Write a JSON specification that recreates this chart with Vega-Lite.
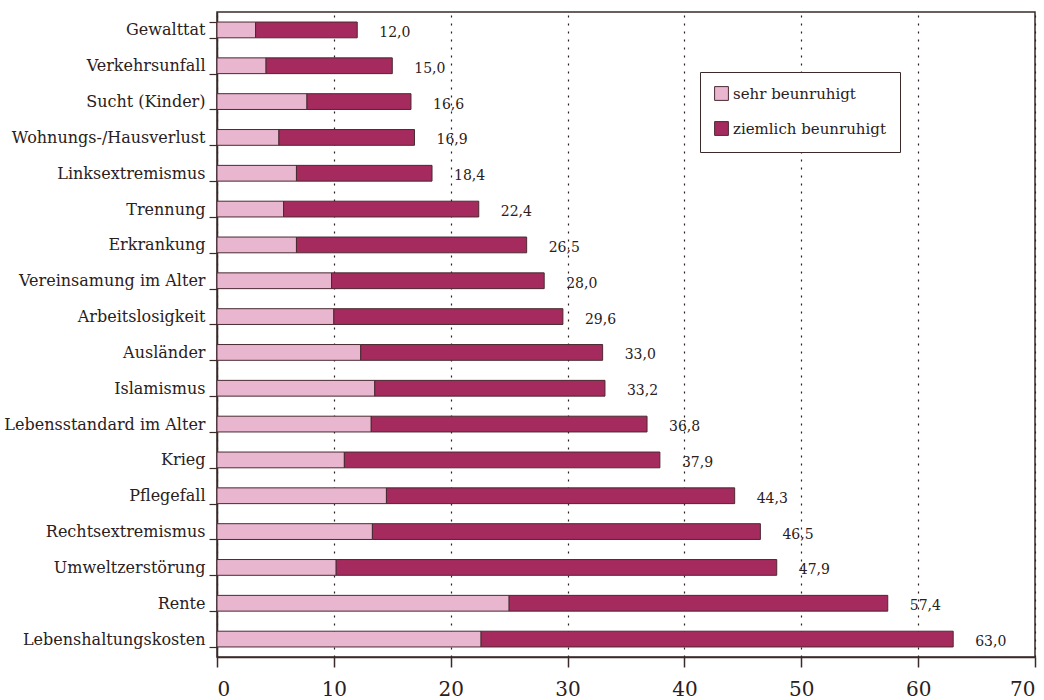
{
  "$schema": "https://vega.github.io/schema/vega-lite/v6.json",
  "width": 818,
  "height": 645,
  "autosize": {"type": "none"},
  "padding": {"left": 217, "top": 12, "right": 9, "bottom": 43},
  "background": "white",
  "config": {
    "locale": {"number": {"decimal": ",", "thousands": ".", "grouping": [3], "currency": ["", " €"]}},
    "view": {"stroke": "#3a2a2a", "strokeWidth": 1.5},
    "font": "DejaVu Serif"
  },
  "data": {
    "values": [
      {"category": "Gewalttat", "type": "sehr beunruhigt", "value": 3.3},
      {"category": "Gewalttat", "type": "ziemlich beunruhigt", "value": 8.7},
      {"category": "Verkehrsunfall", "type": "sehr beunruhigt", "value": 4.2},
      {"category": "Verkehrsunfall", "type": "ziemlich beunruhigt", "value": 10.8},
      {"category": "Sucht (Kinder)", "type": "sehr beunruhigt", "value": 7.7},
      {"category": "Sucht (Kinder)", "type": "ziemlich beunruhigt", "value": 8.9},
      {"category": "Wohnungs-/Hausverlust", "type": "sehr beunruhigt", "value": 5.3},
      {"category": "Wohnungs-/Hausverlust", "type": "ziemlich beunruhigt", "value": 11.6},
      {"category": "Linksextremismus", "type": "sehr beunruhigt", "value": 6.8},
      {"category": "Linksextremismus", "type": "ziemlich beunruhigt", "value": 11.6},
      {"category": "Trennung", "type": "sehr beunruhigt", "value": 5.7},
      {"category": "Trennung", "type": "ziemlich beunruhigt", "value": 16.7},
      {"category": "Erkrankung", "type": "sehr beunruhigt", "value": 6.8},
      {"category": "Erkrankung", "type": "ziemlich beunruhigt", "value": 19.7},
      {"category": "Vereinsamung im Alter", "type": "sehr beunruhigt", "value": 9.8},
      {"category": "Vereinsamung im Alter", "type": "ziemlich beunruhigt", "value": 18.2},
      {"category": "Arbeitslosigkeit", "type": "sehr beunruhigt", "value": 10.0},
      {"category": "Arbeitslosigkeit", "type": "ziemlich beunruhigt", "value": 19.6},
      {"category": "Ausländer", "type": "sehr beunruhigt", "value": 12.3},
      {"category": "Ausländer", "type": "ziemlich beunruhigt", "value": 20.7},
      {"category": "Islamismus", "type": "sehr beunruhigt", "value": 13.5},
      {"category": "Islamismus", "type": "ziemlich beunruhigt", "value": 19.7},
      {"category": "Lebensstandard im Alter", "type": "sehr beunruhigt", "value": 13.2},
      {"category": "Lebensstandard im Alter", "type": "ziemlich beunruhigt", "value": 23.6},
      {"category": "Krieg", "type": "sehr beunruhigt", "value": 10.9},
      {"category": "Krieg", "type": "ziemlich beunruhigt", "value": 27.0},
      {"category": "Pflegefall", "type": "sehr beunruhigt", "value": 14.5},
      {"category": "Pflegefall", "type": "ziemlich beunruhigt", "value": 29.8},
      {"category": "Rechtsextremismus", "type": "sehr beunruhigt", "value": 13.3},
      {"category": "Rechtsextremismus", "type": "ziemlich beunruhigt", "value": 33.2},
      {"category": "Umweltzerstörung", "type": "sehr beunruhigt", "value": 10.2},
      {"category": "Umweltzerstörung", "type": "ziemlich beunruhigt", "value": 37.7},
      {"category": "Rente", "type": "sehr beunruhigt", "value": 25.0},
      {"category": "Rente", "type": "ziemlich beunruhigt", "value": 32.4},
      {"category": "Lebenshaltungskosten", "type": "sehr beunruhigt", "value": 22.6},
      {"category": "Lebenshaltungskosten", "type": "ziemlich beunruhigt", "value": 40.4}
    ]
  },
  "encoding": {
    "y": {
      "field": "category",
      "type": "nominal",
      "sort": ["Gewalttat", "Verkehrsunfall", "Sucht (Kinder)", "Wohnungs-/Hausverlust", "Linksextremismus", "Trennung", "Erkrankung", "Vereinsamung im Alter", "Arbeitslosigkeit", "Ausländer", "Islamismus", "Lebensstandard im Alter", "Krieg", "Pflegefall", "Rechtsextremismus", "Umweltzerstörung", "Rente", "Lebenshaltungskosten"],
      "scale": {"paddingInner": 0.56, "paddingOuter": 0.28},
      "axis": {
        "title": null,
        "tickBand": "extent",
        "tickSize": 8,
        "tickColor": "#3a2a2a",
        "tickWidth": 1.2,
        "domainColor": "#3a2a2a",
        "domainWidth": 1.5,
        "labelFont": "DejaVu Serif",
        "labelFontSize": 16,
        "labelLimit": 400,
        "labelColor": "#2a2020",
        "labelPadding": 4
      }
    }
  },
  "layer": [
    {
      "mark": {"type": "bar", "stroke": "#4a2a30", "strokeWidth": 1},
      "encoding": {
        "x": {
          "field": "value",
          "type": "quantitative",
          "aggregate": "sum",
          "stack": "zero",
          "scale": {"domain": [0, 70], "nice": false},
          "axis": {
            "title": null,
            "values": [0, 10, 20, 30, 40, 50, 60, 70],
            "grid": true,
            "gridDash": [2, 6],
            "gridColor": "#2a2020",
            "gridWidth": 1.2,
            "tickSize": 10,
            "tickColor": "#3a2a2a",
            "tickWidth": 1.5,
            "domainColor": "#3a2a2a",
            "domainWidth": 1.5,
            "labelFont": "DejaVu Serif",
            "labelFontSize": 20,
            "labelColor": "#2a2020",
            "labelPadding": 12,
            "format": "d"
          }
        },
        "color": {
          "field": "type",
          "type": "nominal",
          "scale": {"domain": ["sehr beunruhigt", "ziemlich beunruhigt"], "range": ["#e9b6cf", "#a52a5e"]},
          "legend": {
            "title": null,
            "orient": "none",
            "legendX": 483,
            "legendY": 60,
            "symbolType": "square",
            "symbolSize": 190,
            "symbolStrokeColor": "#4a2a30",
            "symbolStrokeWidth": 1,
            "labelFont": "DejaVu Serif",
            "labelFontSize": 15,
            "labelColor": "#2a2020",
            "labelOffset": 4,
            "rowPadding": 16,
            "padding": 14,
            "strokeColor": "#3a2a2a",
            "fillColor": "white"
          }
        }
      }
    },
    {
      "transform": [{"aggregate": [{"op": "sum", "field": "value", "as": "total"}], "groupby": ["category"]}],
      "mark": {"type": "text", "align": "left", "dx": 22, "dy": 3, "font": "DejaVu Serif", "fontSize": 14, "color": "#2a2020"},
      "encoding": {
        "x": {"field": "total", "type": "quantitative"},
        "text": {"field": "total", "type": "quantitative", "format": ".1f"}
      }
    }
  ]
}
